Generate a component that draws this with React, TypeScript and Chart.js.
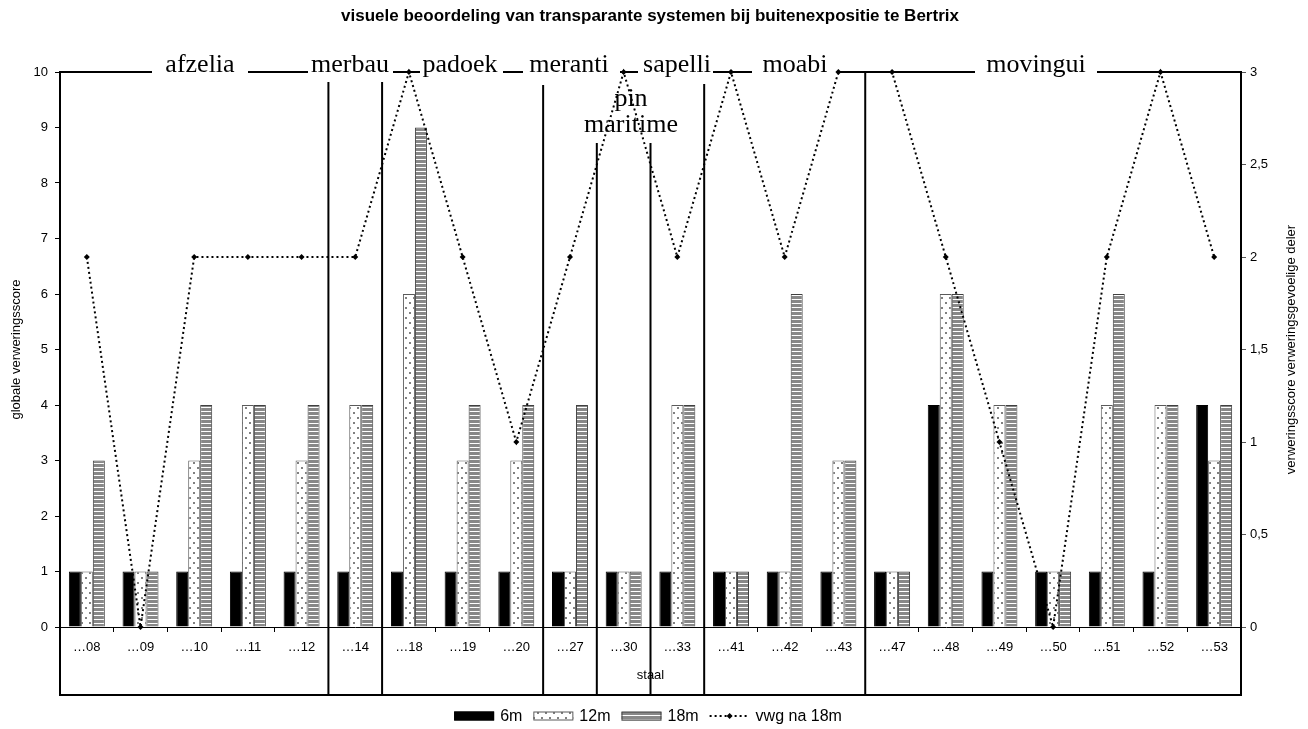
import React, { useEffect, useRef } from 'react';
import { Chart, registerables } from 'chart.js';

Chart.register(...registerables);

// Samples (staal) and their scores
const samples = ['…08', '…09', '…10', '…11', '…12', '…14', '…18', '…19', '…20', '…27', '…30', '…33', '…41', '…42', '…43', '…47', '…48', '…49', '…50', '…51', '…52', '…53'];
const score6m = [1, 1, 1, 1, 1, 1, 1, 1, 1, 1, 1, 1, 1, 1, 1, 1, 4, 1, 1, 1, 1, 4];
const score12m = [1, 1, 3, 4, 3, 4, 6, 3, 3, 1, 1, 4, 1, 1, 3, 1, 6, 4, 1, 4, 4, 3];
const score18m = [3, 1, 4, 4, 4, 4, 9, 4, 4, 4, 1, 4, 1, 6, 3, 1, 6, 4, 1, 6, 4, 4];
const vwg18m = [2, 0, 2, 2, 2, 2, 3, 2, 1, 2, 3, 2, 3, 2, 3, 3, 2, 1, 0, 2, 3, 2];

// Wood species and the index of the first sample belonging to each
const woodNames = ['afzelia', 'merbau', 'padoek', 'meranti', 'pin\nmaritime', 'sapelli', 'moabi', 'movingui'];
const woodFirstSample = [0, 5, 6, 9, 10, 11, 12, 15];

// Axis ranges
const leftMin = 0, leftMax = 10, leftStep = 1;
const rightMin = 0, rightMax = 3, rightStep = 0.5;

const TITLE = 'visuele beoordeling van transparante systemen bij buitenexpositie te Bertrix';
const SANS = '"Liberation Sans", Arial, sans-serif';
const SERIF = '"Liberation Serif", "Times New Roman", serif';

// Layout of the hand-placed species captions above the plot
const speciesLabelX = [200, 350, 460, 569, 631, 677, 795, 1036];
const headerSegments: [number, number][] = [[60, 152], [248, 308], [393, 420], [503, 523], [620, 638], [713, 752], [840, 975], [1097, 1241]];
const separatorTop = [82, 82, 85, 143, 143, 84, 72];
const BOX_BOTTOM = 695;

function dotPattern(): CanvasPattern {
  const c = document.createElement('canvas');
  c.width = 8; c.height = 10;
  const g = c.getContext('2d')!;
  g.fillStyle = '#fff';
  g.fillRect(0, 0, 8, 10);
  g.fillStyle = '#808080';
  g.fillRect(1, 2, 2, 2);
  g.fillRect(5, 7, 2, 2);
  return g.createPattern(c, 'repeat')!;
}

function stripePattern(): CanvasPattern {
  const c = document.createElement('canvas');
  c.width = 4; c.height = 4;
  const g = c.getContext('2d')!;
  g.fillStyle = '#888';
  g.fillRect(0, 0, 4, 3);
  g.fillStyle = '#fff';
  g.fillRect(0, 3, 4, 1);
  return g.createPattern(c, 'repeat')!;
}

const decorations = {
  id: 'decorations',
  beforeDatasetsDraw(chart: any) {
    const { ctx, chartArea, scales } = chart;
    const x = scales.x;
    ctx.save();
    // header line along the top of the plot, broken by species captions
    ctx.strokeStyle = '#000';
    ctx.lineWidth = 2;
    ctx.beginPath();
    headerSegments.forEach(([a, b]) => {
      ctx.moveTo(a, chartArea.top);
      ctx.lineTo(b, chartArea.top);
    });
    ctx.stroke();
    // separators between species
    woodFirstSample.slice(1).forEach((idx, i) => {
      const px = (x.getPixelForValue(idx - 1) + x.getPixelForValue(idx)) / 2;
      ctx.beginPath();
      ctx.moveTo(px, separatorTop[i]);
      ctx.lineTo(px, BOX_BOTTOM);
      ctx.stroke();
    });
    // species captions
    ctx.fillStyle = '#000';
    ctx.font = `26px ${SERIF}`;
    ctx.textAlign = 'center';
    ctx.textBaseline = 'alphabetic';
    woodNames.forEach((name, i) => {
      const lines = name.split('\n');
      if (lines.length > 1) {
        lines.forEach((ln, k) => ctx.fillText(ln, speciesLabelX[i], 106 + k * 26));
      } else {
        ctx.fillText(name, speciesLabelX[i], chartArea.top);
      }
    });
    ctx.restore();
  },
  afterDraw(chart: any) {
    const { ctx, chartArea } = chart;
    ctx.save();
    ctx.strokeStyle = '#000';
    ctx.lineWidth = 2;
    // frame below the plot holding the sample labels
    ctx.beginPath();
    ctx.moveTo(chartArea.left, chartArea.bottom);
    ctx.lineTo(chartArea.left, BOX_BOTTOM);
    ctx.lineTo(chartArea.right, BOX_BOTTOM);
    ctx.lineTo(chartArea.right, chartArea.bottom);
    ctx.stroke();

    // chart title
    ctx.fillStyle = '#000';
    ctx.font = `bold 17px ${SANS}`;
    ctx.textAlign = 'center';
    ctx.textBaseline = 'middle';
    ctx.fillText(TITLE, 650, 16);

    // right axis title, reading upward
    ctx.font = `13px ${SANS}`;
    ctx.save();
    ctx.translate(1291, (chartArea.top + chartArea.bottom) / 2);
    ctx.rotate(-Math.PI / 2);
    ctx.fillText('verweringsscore verweringsgevoelige deler', 0, 0);
    ctx.restore();

    // legend
    const ds = chart.data.datasets;
    ctx.font = `16px ${SANS}`;
    ctx.textAlign = 'left';
    const boxW = 40, boxH = 9, gap = 6, spacing = 11;
    const widths = ds.map((d: any) => boxW + gap + ctx.measureText(d.label).width);
    const total = widths.reduce((a: number, b: number) => a + b, 0) + spacing * (ds.length - 1);
    let lx = 648 - total / 2;
    const ly = 716;
    ds.forEach((d: any, i: number) => {
      if (d.type === 'line') {
        ctx.save();
        ctx.strokeStyle = d.borderColor;
        ctx.lineWidth = 2;
        ctx.setLineDash(d.borderDash);
        ctx.beginPath();
        ctx.moveTo(lx, ly);
        ctx.lineTo(lx + boxW, ly);
        ctx.stroke();
        ctx.setLineDash([]);
        ctx.fillStyle = '#000';
        ctx.beginPath();
        const cx = lx + boxW / 2;
        ctx.moveTo(cx, ly - 3); ctx.lineTo(cx + 3, ly); ctx.lineTo(cx, ly + 3); ctx.lineTo(cx - 3, ly);
        ctx.closePath();
        ctx.fill();
        ctx.restore();
      } else {
        ctx.fillStyle = d.backgroundColor;
        ctx.fillRect(lx, ly - boxH / 2, boxW, boxH);
        ctx.strokeStyle = d.borderColor;
        ctx.lineWidth = 1;
        ctx.strokeRect(lx + 0.5, ly - boxH / 2 + 0.5, boxW - 1, boxH - 1);
      }
      ctx.fillStyle = '#000';
      ctx.fillText(d.label, lx + boxW + gap, ly + 1);
      lx += widths[i] + spacing;
    });
    ctx.restore();
  },
};

export default function App() {
  const ref = useRef<HTMLCanvasElement>(null);

  useEffect(() => {
    const canvas = ref.current!;
    const tickFont = { family: SANS, size: 13 };
    const chart = new Chart(canvas, {
      type: 'bar',
      data: {
        labels: samples,
        datasets: [
          { type: 'bar', label: '6m', data: score6m, backgroundColor: '#000', borderColor: '#000', borderWidth: 1, order: 1, yAxisID: 'y' },
          { type: 'bar', label: '12m', data: score12m, backgroundColor: dotPattern(), borderColor: '#5a5a5a', borderWidth: 1, order: 1, yAxisID: 'y' },
          { type: 'bar', label: '18m', data: score18m, backgroundColor: stripePattern(), borderColor: '#404040', borderWidth: 1, order: 1, yAxisID: 'y' },
          {
            type: 'line', label: 'vwg na 18m', data: vwg18m, yAxisID: 'y1',
            borderColor: '#000', borderWidth: 2, borderDash: [2, 3], tension: 0, fill: false,
            pointStyle: 'rectRot', pointRadius: 3, pointBackgroundColor: '#000', pointBorderWidth: 0,
            order: 0, clip: false,
          } as any,
        ],
      },
      options: {
        responsive: false,
        animation: false,
        devicePixelRatio: 1,
        layout: { padding: { top: 72, left: 0, right: 0, bottom: 0 } },
        plugins: { legend: { display: false }, title: { display: false }, tooltip: { enabled: false } },
        datasets: { bar: { categoryPercentage: 0.67, barPercentage: 1 } },
        scales: {
          x: {
            offset: true,
            grid: { display: true, drawOnChartArea: false, drawTicks: true, tickLength: 5, color: '#000', offset: true },
            border: { display: true, color: '#000', width: 1 },
            ticks: { font: tickFont, color: '#000', padding: 8, maxRotation: 0, autoSkip: false },
            title: { display: true, text: 'staal', font: tickFont, color: '#000', padding: { top: 0, bottom: 46 } },
            afterFit: (s: any) => { s.height = 102; },
          },
          y: {
            position: 'left',
            min: leftMin, max: leftMax,
            ticks: { stepSize: leftStep, font: tickFont, color: '#000', padding: 7 },
            grid: { display: true, drawOnChartArea: false, tickLength: 5, color: '#000' },
            border: { display: true, color: '#000', width: 2 },
            title: { display: true, text: 'globale verweringsscore', font: tickFont, color: '#000', padding: { top: 9, bottom: 0 } },
            afterFit: (s: any) => { s.width = 60; },
          },
          y1: {
            position: 'right',
            min: rightMin, max: rightMax,
            ticks: {
              stepSize: rightStep, font: tickFont, color: '#000', padding: 4,
              callback: (v: any) => String(v).replace('.', ','),
            },
            grid: { display: true, drawOnChartArea: false, tickLength: 5, color: '#555' },
            border: { display: true, color: '#000', width: 2 },
            afterFit: (s: any) => { s.width = 67; },
          },
        },
      } as any,
      plugins: [decorations],
    });
    return () => chart.destroy();
  }, []);

  return (
    <div style={{ position: 'fixed', left: 0, top: 0, width: 1308, height: 729, background: '#fff' }}>
      <canvas ref={ref} width={1308} height={729} style={{ display: 'block' }} />
    </div>
  );
}
